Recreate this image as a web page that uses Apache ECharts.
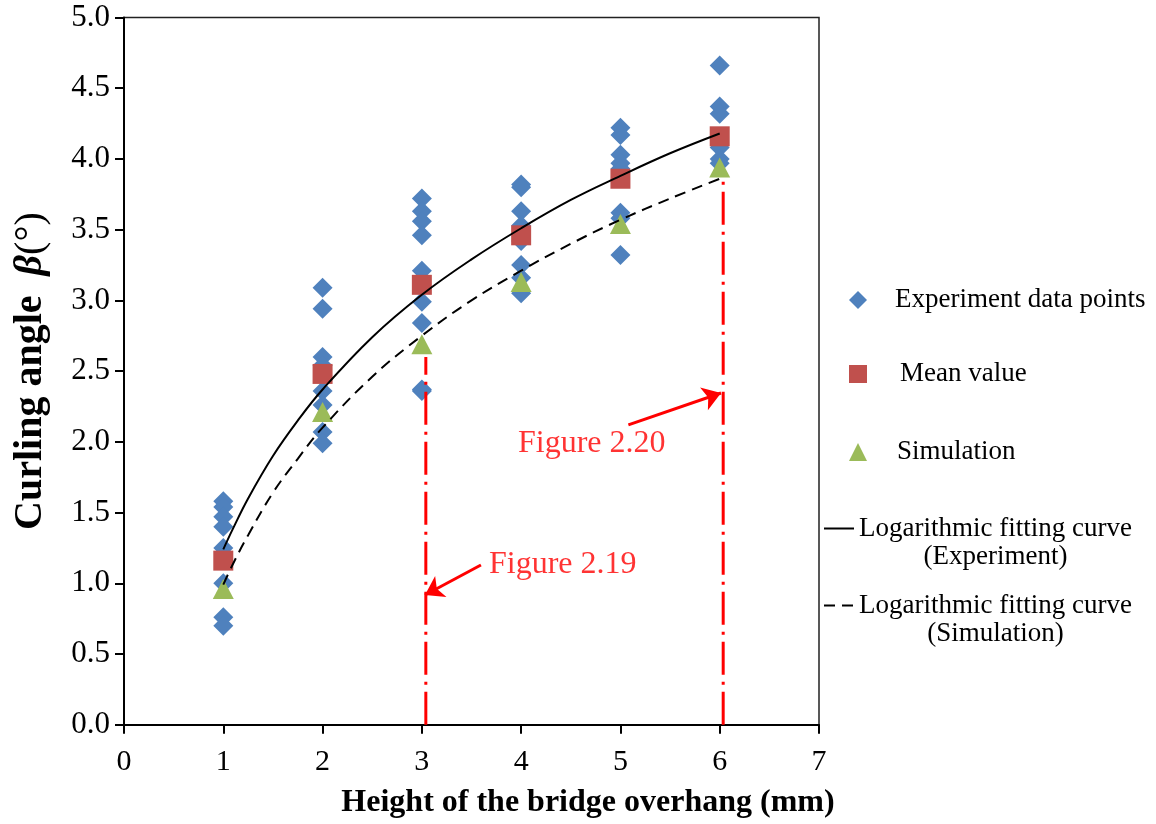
<!DOCTYPE html>
<html>
<head>
<meta charset="utf-8">
<script src="https://cdn.jsdelivr.net/npm/echarts@6/dist/echarts.min.js"></script>
<style>
html,body{margin:0;padding:0;background:#fff;}
#chart{width:1156px;height:824px;}
</style>
</head>
<body>
<div id="chart"></div>
<script>
// ---- data ----
const heights = [1, 2, 3, 4, 5, 6];
const expByHeight = [
  [1.58, 1.54, 1.47, 1.40, 1.25, 1.00, 0.76, 0.70],
  [3.09, 2.94, 2.60, 2.54, 2.36, 2.26, 2.07, 1.99],
  [3.72, 3.63, 3.56, 3.46, 3.21, 2.99, 2.84, 2.37, 2.36],
  [3.82, 3.80, 3.63, 3.53, 3.42, 3.25, 3.16, 3.05],
  [4.22, 4.17, 4.03, 3.97, 3.93, 3.62, 3.58, 3.32],
  [4.66, 4.37, 4.32, 4.08, 4.00, 3.97]
];
const meanValues = [1.16, 2.48, 3.11, 3.46, 3.86, 4.16];
const simValues = [0.96, 2.21, 2.69, 3.13, 3.54, 3.94];
// fitted curves
const curveX = [1, 1.1, 1.25, 1.5, 1.75, 2, 2.5, 3, 3.5, 4, 4.5, 5, 5.5, 6];
const fitExpY = [1.24, 1.39, 1.60, 1.90, 2.15, 2.37, 2.74, 3.04, 3.29, 3.51, 3.71, 3.88, 4.04, 4.18];
const fitSimY = [0.99, 1.14, 1.34, 1.64, 1.88, 2.10, 2.46, 2.75, 3.00, 3.21, 3.40, 3.57, 3.72, 3.86];
// annotations
const refLineX = [3.04, 6.035];
const refLineTop = [2.60, 3.84];
const annoLabels = ['Figure 2.19', 'Figure 2.20'];
const annoLabelPos = [[3.676, 1.13], [3.968, 1.99]];
const arrowFrom = [[3.595, 1.129], [5.08, 2.12]];
const arrowTo = [[3.031, 0.917], [6.013, 2.345]];
const xTicks = [0, 7, 1];
const yTicks = [0, 5, 0.5];

const FONT = "'Liberation Serif','Times New Roman',serif";
const expData = [];
heights.forEach((h, i) => expByHeight[i].forEach(v => expData.push([h, v])));
const meanData = heights.map((h, i) => [h, meanValues[i]]);
const simData = heights.map((h, i) => [h, simValues[i]]);
const fitExpData = curveX.map((x, i) => [x, fitExpY[i]]);
const fitSimData = curveX.map((x, i) => [x, fitSimY[i]]);

const chart = echarts.init(document.getElementById('chart'));

const redDash = [33, 7, 3, 7];
const refSeries = refLineX.map((x, i) => ({
  type: 'line', name: 'ref' + i, data: [[x, 0], [x, refLineTop[i]]],
  symbol: 'none', silent: true, z: 6,
  lineStyle: { color: '#ff0000', width: 3, type: redDash }
}));

const legendText = {fontSize: 27, fontFamily: FONT, color: '#000', lineHeight: 30};
function scatterLegend(name, top, pad) {
  return {
    data: [name], orient: 'vertical', left: 849, top: top, padding: 0,
    itemWidth: 18, itemHeight: 18, selectedMode: false,
    textStyle: Object.assign({}, legendText, {padding: [0, 0, 0, pad]})
  };
}
function lineLegend(name, sub, top) {
  return {
    data: [name], orient: 'vertical', left: 823, top: top, padding: 0,
    itemWidth: 30, itemHeight: 14, selectedMode: false,
    itemStyle: {opacity: 0},
    formatter: () => '{a|' + name.trim() + '}\n{b|' + sub + '}',
    textStyle: {
      fontSize: 27, fontFamily: FONT, color: '#000', padding: [28, 0, 0, 0],
      rich: {
        a: {fontSize: 27, fontFamily: FONT, color: '#000', lineHeight: 28},
        b: {fontSize: 27, fontFamily: FONT, color: '#000', lineHeight: 28, width: 270, align: 'center'}
      }
    }
  };
}

chart.setOption({
  animation: false,
  backgroundColor: '#fff',
  grid: {left: 124, right: 337, top: 17.5, bottom: 99.3, show: true, borderColor: '#222', borderWidth: 1.5},
  legend: [
    scatterLegend('Experiment data points', 285, 23),
    scatterLegend('Mean value', 359, 28),
    scatterLegend('Simulation', 437, 25),
    lineLegend('Logarithmic fitting curve', '(Experiment)', 515),
    lineLegend('Logarithmic fitting curve ', '(Simulation)', 592)
  ],
  xAxis: {
    type: 'value', min: xTicks[0], max: xTicks[1], interval: xTicks[2],
    name: 'Height of the bridge overhang (mm)', nameLocation: 'middle', nameGap: 62,
    nameTextStyle: {fontSize: 32, fontWeight: 'bold', fontFamily: FONT, color: '#000', padding: [0, 0, 0, 233]},
    axisLine: {show: true, onZero: false, lineStyle: {color: '#000', width: 2}},
    axisTick: {show: true, inside: false, length: 9, lineStyle: {color: '#000', width: 2}},
    axisLabel: {fontSize: 30, fontFamily: FONT, color: '#000', margin: 22},
    splitLine: {show: false}
  },
  yAxis: {
    type: 'value', min: yTicks[0], max: yTicks[1], interval: yTicks[2],
    name: '{b|Curling angle  }{i|β}{n|(°)}', nameLocation: 'middle', nameGap: 73,
    nameTextStyle: {
      fontSize: 40, fontFamily: FONT, color: '#000',
      rich: {
        b: {fontSize: 40, fontWeight: 'bold', fontFamily: FONT, color: '#000'},
        i: {fontSize: 40, fontWeight: 'bold', fontStyle: 'italic', fontFamily: FONT, color: '#000'},
        n: {fontSize: 40, fontFamily: FONT, color: '#000'}
      }
    },
    axisLine: {show: true, lineStyle: {color: '#000', width: 2}},
    axisTick: {show: true, inside: false, length: 9, lineStyle: {color: '#000', width: 2}},
    axisLabel: {fontSize: 31, fontFamily: FONT, color: '#000', margin: 14, formatter: v => v.toFixed(1)},
    splitLine: {show: false}
  },
  series: [
    {type: 'scatter', name: 'Experiment data points', data: expData, symbol: 'diamond', symbolSize: 20,
     itemStyle: {color: '#4F81BD', opacity: 1}, z: 2},
    {type: 'scatter', name: 'Mean value', data: meanData, symbol: 'rect', symbolSize: 20,
     itemStyle: {color: '#C0504D', opacity: 1}, z: 3},
    {type: 'scatter', name: 'Simulation', data: simData, symbol: 'triangle', symbolSize: [21, 20],
     itemStyle: {color: '#9BBB59', opacity: 1}, z: 4},
    {type: 'line', name: 'Logarithmic fitting curve', data: fitExpData, smooth: 0.4, symbol: 'none',
     lineStyle: {color: '#000', width: 2, type: 'solid'}, itemStyle: {color: '#000'}, z: 5},
    {type: 'line', name: 'Logarithmic fitting curve ', data: fitSimData, smooth: 0.4, symbol: 'none',
     lineStyle: {color: '#000', width: 2, type: [11, 7]}, itemStyle: {color: '#000'}, z: 5},
    ...refSeries,
    {type: 'scatter', name: 'annotations', data: annoLabelPos.map((p, i) => ({value: p, name: annoLabels[i]})),
     symbolSize: 0, silent: true, z: 7,
     label: {show: true, position: 'inside', align: 'left', verticalAlign: 'middle', formatter: p => p.name,
             fontSize: 32, fontFamily: FONT, color: '#ff0000'},
     markLine: {
       silent: true, symbol: ['none', 'arrow'], symbolSize: 18,
       lineStyle: {color: '#ff0000', width: 3, type: 'solid'},
       label: {show: false},
       data: arrowFrom.map((f, i) => [{coord: f}, {coord: arrowTo[i]}])
     }}
  ]
});
</script>
</body>
</html>
